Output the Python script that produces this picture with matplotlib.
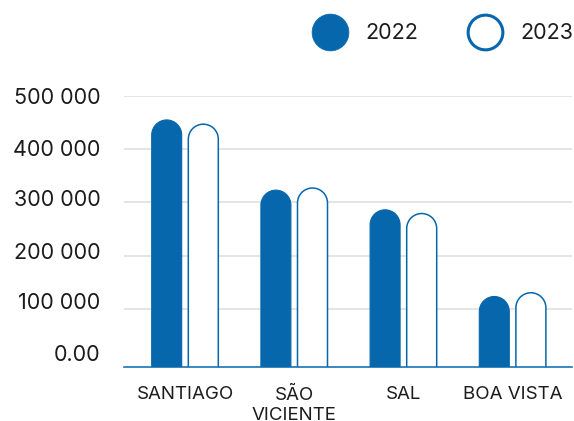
import matplotlib.pyplot as plt
from matplotlib.patches import PathPatch
from matplotlib.path import Path
from matplotlib.lines import Line2D
from matplotlib.transforms import ScaledTranslation
import numpy as np

# Data
islands = ["SANTIAGO", "SÃO\nVICIENTE", "SAL", "BOA VISTA"]
val_2022 = [455000, 323000, 286000, 123000]
val_2023 = [447000, 327000, 279000, 130000]
yticks = [0, 100000, 200000, 300000, 400000, 500000]
ytick_labels = ["0.00", "100 000", "200 000", "300 000", "400 000", "500 000"]

blue = "#0767AD"
text_color = "#1c1c1c"

plt.rcParams["font.family"] = ["Inter", "DejaVu Sans"]

W, H = 574, 421
fig = plt.figure(figsize=(W / 100, H / 100), dpi=100)
ax = fig.add_axes([124 / W, 1 - 367 / H, (572 - 124) / W, (367 - 96) / H])

x = np.arange(len(islands))
xlim = (-0.5586, 3.544)
ylim = (-9600, 500000)
ax.set_xlim(*xlim)
ax.set_ylim(*ylim)

# pixel scale, so the round caps stay circular
bbox = ax.get_position()
x_per_px = (xlim[1] - xlim[0]) / (bbox.width * W)
y_per_px = (ylim[1] - ylim[0]) / (bbox.height * H)

bar_w = 0.2747
offset = 0.1676
y0 = -60000


def rounded_bar(ax, xc, value, face, edge, lw):
    rx = bar_w / 2
    ry = rx / x_per_px * y_per_px
    arc = Path.arc(0, 180)
    verts = arc.vertices * [rx, ry] + [xc, value - ry]
    codes = list(arc.codes)
    verts = np.vstack([[xc + rx, y0], verts, [xc - rx, y0], [xc + rx, y0]])
    codes = [Path.MOVETO, Path.LINETO] + codes[1:] + [Path.LINETO, Path.CLOSEPOLY]
    patch = PathPatch(Path(verts, codes), facecolor=face, edgecolor=edge,
                      linewidth=lw, zorder=2)
    ax.add_patch(patch)


for xi, v in zip(x, val_2022):
    rounded_bar(ax, xi - offset, v, blue, blue, 0.8)
for xi, v in zip(x, val_2023):
    rounded_bar(ax, xi + offset, v, "white", blue, 1.1)

# Axes styling
ax.set_yticks(yticks)
ax.set_yticklabels(ytick_labels, fontsize=15.5, color=text_color)
ax.set_xticks(x)
ax.set_xticklabels(islands, fontsize=13.5, color=text_color, linespacing=1.25)
ax.tick_params(axis="y", length=0, pad=17)
ax.tick_params(axis="x", length=0, pad=14)

# labels sit a little above their gridlines in the original
lift_px = [9, 8, 4.5, 4.5, 1, 0]
for lab, d in zip(ax.get_yticklabels(), lift_px):
    lab.set_transform(lab.get_transform() + ScaledTranslation(0, d / 100, fig.dpi_scale_trans))

ax.grid(axis="y", color="#e2e2e2", linewidth=1.3, zorder=0)
ax.set_axisbelow(True)
ax.yaxis.get_gridlines()[0].set_visible(False)

for s in ["top", "right", "left"]:
    ax.spines[s].set_visible(False)
ax.spines["bottom"].set_color(blue)
ax.spines["bottom"].set_linewidth(1.1)

# Legend
handles = [
    Line2D([], [], linestyle="none", marker="o", markersize=26.5,
           markerfacecolor=blue, markeredgecolor=blue, markeredgewidth=0.5),
    Line2D([], [], linestyle="none", marker="o", markersize=25,
           markerfacecolor="white", markeredgecolor=blue, markeredgewidth=2.2),
]
leg = fig.legend(handles, ["2022", "2023"], loc="center right",
                 bbox_to_anchor=(573 / W, 1 - 33.3 / H), ncol=2,
                 frameon=False, fontsize=15.5, handlelength=1.78,
                 handletextpad=0.75, columnspacing=2.2, borderpad=0,
                 borderaxespad=0)
for t in leg.get_texts():
    t.set_color(text_color)

fig.savefig("out.png", dpi=100)
plt.close()
